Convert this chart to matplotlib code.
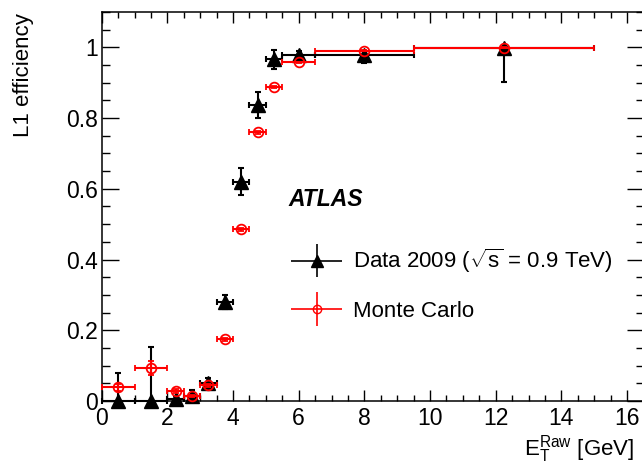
import numpy as np
import matplotlib
matplotlib.use("Agg")
import matplotlib.pyplot as plt
from matplotlib.container import ErrorbarContainer
from matplotlib.legend_handler import HandlerErrorbar
from matplotlib.ticker import MultipleLocator

plt.rcParams['font.family'] = ['Liberation Sans', 'DejaVu Sans']
plt.rcParams['mathtext.fontset'] = 'custom'
plt.rcParams['mathtext.rm'] = 'Liberation Sans'
plt.rcParams['mathtext.it'] = 'Liberation Sans:italic'
plt.rcParams['mathtext.bf'] = 'Liberation Sans:bold'

# ---- data ----
bin_lo = [0.0, 1.0, 2.0, 2.5, 3.0, 3.5, 4.0, 4.5, 5.0, 5.5, 6.5, 9.5]
bin_hi = [1.0, 2.0, 2.5, 3.0, 3.5, 4.0, 4.5, 5.0, 5.5, 6.5, 9.5, 15.0]

data_x = [0.5, 1.5, 2.25, 2.75, 3.25, 3.75, 4.25, 4.75, 5.25, 6.0, 8.0, 12.25]
data_y = [0.0, 0.0, 0.005, 0.015, 0.05, 0.28, 0.62, 0.836, 0.968, 0.979, 0.977, 0.998]
data_err_lo = [0.0, 0.0, 0.004, 0.01, 0.012, 0.02, 0.037, 0.035, 0.03, 0.015, 0.02, 0.095]
data_err_hi = [0.08, 0.152, 0.01, 0.015, 0.015, 0.02, 0.04, 0.037, 0.025, 0.012, 0.012, 0.002]

mc_x = [0.5, 1.5, 2.25, 2.75, 3.25, 3.75, 4.25, 4.75, 5.25, 6.0, 8.0, 12.25]
mc_y = [0.039, 0.094, 0.028, 0.014, 0.044, 0.175, 0.486, 0.76, 0.887, 0.958, 0.991, 0.999]
mc_err = [0.01, 0.02, 0.005, 0.004, 0.005, 0.004, 0.004, 0.004, 0.003, 0.002, 0.002, 0.001]

label_data = r'Data 2009 ($\sqrt{\mathrm{s}}$ = 0.9 TeV)'
label_mc = 'Monte Carlo'

W, H = 642, 468
fig = plt.figure(figsize=(W / 100, H / 100), dpi=100)
left_px, right_px, top_px, bot_px = 101.7, 643.5, 12, 401
ax = fig.add_axes([left_px / W, (H - bot_px) / H, (right_px - left_px) / W, (bot_px - top_px) / H])

dx = np.array(data_x)
xerr_d = [dx - np.array(bin_lo), np.array(bin_hi) - dx]
mx = np.array(mc_x)
xerr_m = [mx - np.array(bin_lo), np.array(bin_hi) - mx]

ax.errorbar(data_x, data_y, xerr=xerr_d, yerr=[data_err_lo, data_err_hi], fmt='^',
            color='black', ms=10, elinewidth=1.5, capsize=2, capthick=1.5, zorder=3,
            clip_on=False)
ax.errorbar(mc_x, mc_y, xerr=xerr_m, yerr=mc_err, fmt='o', color='red', mfc='none',
            mec='red', mew=1.3, ms=7, elinewidth=1.5, capsize=2, capthick=1.5, zorder=4,
            clip_on=False)

# legend proxies (no caps)
h1 = ax.errorbar([np.nan], [np.nan], xerr=[[0.1]], yerr=[[0.1]], fmt='^', color='black',
                 ms=8, elinewidth=1.2, capsize=0, label=label_data)
h2 = ax.errorbar([np.nan], [np.nan], xerr=[[0.1]], yerr=[[0.1]], fmt='o', color='red',
                 mfc='none', mec='red', ms=6, elinewidth=1.2, capsize=0, label=label_mc)

ax.set_xlim(0, 16.5)
ax.set_ylim(0, 1.1)
ax.xaxis.set_major_locator(MultipleLocator(2))
ax.xaxis.set_minor_locator(MultipleLocator(0.5))
ax.yaxis.set_major_locator(MultipleLocator(0.2))
ax.yaxis.set_minor_locator(MultipleLocator(0.05))
ax.set_xticks([0, 2, 4, 6, 8, 10, 12, 14, 16])
ax.set_xticklabels(['0', '2', '4', '6', '8', '10', '12', '14', '16'])
ax.set_yticks([0, 0.2, 0.4, 0.6, 0.8, 1.0])
ax.set_yticklabels(['0', '0.2', '0.4', '0.6', '0.8', '1'])
ax.tick_params(axis='both', which='both', direction='in', top=True, right=True,
               labelsize=16.5, width=1.0)
ax.tick_params(axis='x', which='major', length=8, pad=4)
ax.tick_params(axis='x', which='minor', length=4)
ax.tick_params(axis='y', which='major', length=12, pad=3)
ax.tick_params(axis='y', which='minor', length=6)
for s in ax.spines.values():
    s.set_linewidth(1.1)

fig.text(24 / W, 1 - 13 / H, 'L1 efficiency', rotation=90, ha='center', va='top', fontsize=16)
fig.text(634 / W, 3 / H, r'$\mathrm{E}_{\mathrm{T}}^{\mathrm{Raw}}$ [GeV]', ha='right',
         va='bottom', fontsize=16)

ax.text(288 / W, (H - 199) / H, 'ATLAS', transform=fig.transFigure, fontsize=16.5,
        fontweight='bold', fontstyle='italic', ha='left', va='center')

leg = ax.legend(handles=[h1, h2], loc='upper left', bbox_to_anchor=(291 / W, (H - 247) / H),
                bbox_transform=fig.transFigure, frameon=False, fontsize=16, borderpad=0,
                borderaxespad=0, handlelength=2.3, handletextpad=0.5, labelspacing=1.15,
                handler_map={ErrorbarContainer: HandlerErrorbar(xerr_size=1.15, yerr_size=0.75)})

fig.savefig('out.png', dpi=100)
